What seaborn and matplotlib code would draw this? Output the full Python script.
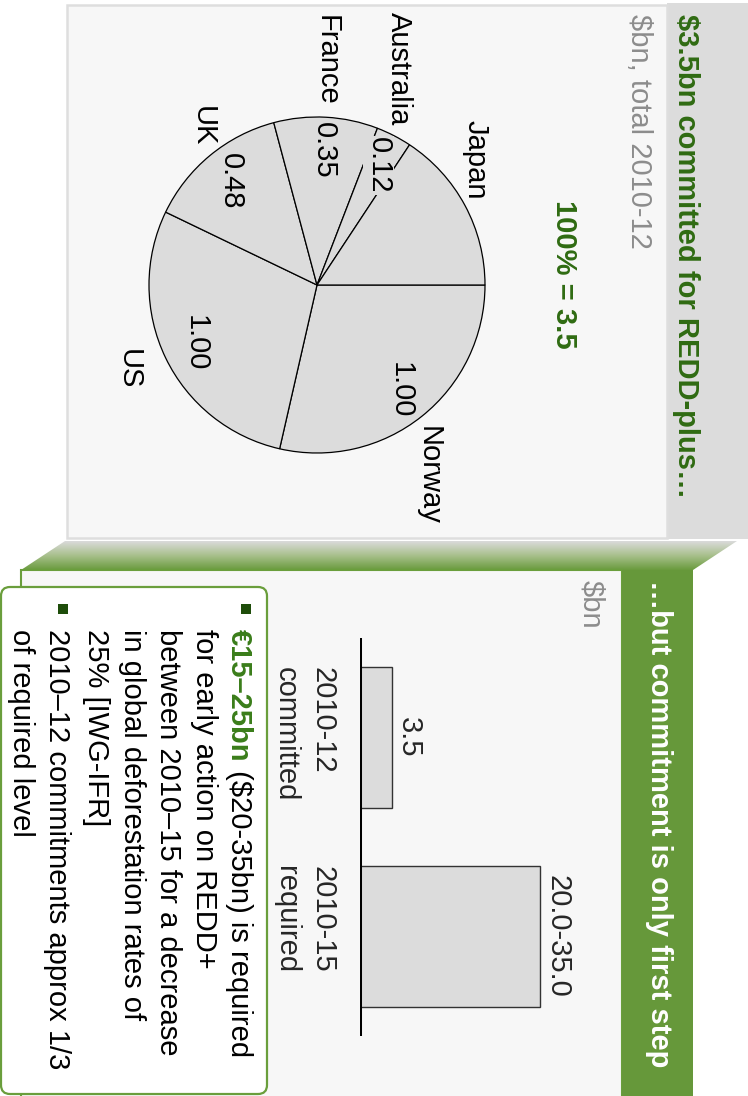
import numpy as np
import pandas as pd
import matplotlib
matplotlib.use("Agg")
import matplotlib.pyplot as plt
import matplotlib.patches as mpatches
from matplotlib.colors import LinearSegmentedColormap
import seaborn as sns

# ---------------- data ----------------
pie_countries = ["Norway", "US", "UK", "France", "Australia", "Japan"]
pie_values = [1.00, 1.00, 0.48, 0.35, 0.12, 0.55]
pie_value_labels = ["1.00", "1.00", "0.48", "0.35", "0.12", ""]
pie_total_label = "100% = 3.5"

bar_categories = ["2010-12\ncommitted", "2010-15\nrequired"]
bar_values = [3.5, 20.0]
bar_value_labels = ["3.5", "20.0-35.0"]

title_top = "$3.5bn committed for REDD-plus…"
subtitle_top = "$bn, total 2010-12"
title_bottom = "…but commitment is only first step"
subtitle_bottom = "$bn"
bullet_highlight = "€15–25bn"
bullet_lines = [
    " ($20-35bn) is required",
    "for early action on REDD+",
    "between 2010–15 for a decrease",
    "in global deforestation rates of",
    "25% [IWG-IFR]",
    "2010–12 commitments approx 1/3",
    "of required level",
]

# ---------------- style ----------------
sns.set_style("white")
plt.rcParams['font.family'] = ['Liberation Sans', 'DejaVu Sans']
FS = 21
DARK_GREEN = '#2f6b12'
HL_GREEN = '#3a7d1a'
HEADER_GREEN = '#66983a'
BORDER_GREEN = '#6a9e3c'
GREY_TXT = '#8c8c8c'
SLICE = '#dcdcdc'

W, H = 748, 1096
fig = plt.figure(figsize=(W / 100, H / 100), dpi=100)
fig.patch.set_facecolor('white')

# background / decoration axes in pixel units (y down)
bg = fig.add_axes([0, 0, 1, 1], zorder=0)
bg.axis('off')

# top panel
bg.add_patch(mpatches.Rectangle((667, 3), 81, 536, fc='#dcdcdc', ec='none'))
bg.add_patch(mpatches.Rectangle((67, 5), 600, 533, fc='#f7f7f7', ec='#dedede', lw=1.8))

# bevel between panels
poly = mpatches.Polygon([(65, 541), (737, 541), (693, 570), (21, 570)], closed=True,
                        fc='none', ec='none')
bg.add_patch(poly)
cmap = LinearSegmentedColormap.from_list('bev', ['#dadada', '#a8c08c', '#6a9b3e'])
grad = np.linspace(0, 1, 64).reshape(-1, 1)
im = bg.imshow(grad, cmap=cmap, extent=(21, 737, 570, 541), aspect='auto',
               origin='upper', zorder=1)
im.set_clip_path(poly)

# bottom panel
bg.add_patch(mpatches.Rectangle((21, 570), 601, 530, fc='#f7f7f7', ec=BORDER_GREEN, lw=1.5))
bg.add_patch(mpatches.Rectangle((622, 570), 71, 530, fc=HEADER_GREEN, ec='none'))

# callout box
bg.add_patch(mpatches.FancyBboxPatch((1, 587), 266, 507,
                                     boxstyle='round,pad=0,rounding_size=9',
                                     fc='white', ec=BORDER_GREEN, lw=1.6, zorder=2))
bg.set_xlim(0, W)
bg.set_ylim(H, 0)

rot = dict(rotation=-90, rotation_mode='anchor')

# texts top panel
bg.text(678, 14, title_top, ha='left', va='baseline', fontsize=FS,
        fontweight='bold', color=DARK_GREEN, **rot)
bg.text(631, 14, subtitle_top, ha='left', va='baseline', fontsize=FS,
        color=GREY_TXT, **rot)
bg.text(556, 200, pie_total_label, ha='left', va='baseline', fontsize=FS,
        fontweight='bold', color=DARK_GREEN, **rot)

# texts bottom panel
bg.text(651, 580, title_bottom, ha='left', va='baseline', fontsize=FS,
        fontweight='bold', color='white', **rot)
bg.text(583, 580, subtitle_bottom, ha='left', va='baseline', fontsize=FS,
        color=GREY_TXT, **rot)

# bullets
bg.add_patch(mpatches.Rectangle((241, 604), 10, 10, fc='#1e4d0a', ec='none', zorder=3))
bg.add_patch(mpatches.Rectangle((58, 604), 10, 10, fc='#1e4d0a', ec='none', zorder=3))
baselines = [231, 196, 160, 124, 88, 49, 13]
t1 = bg.text(baselines[0], 629, bullet_highlight, ha='left', va='baseline', fontsize=FS,
             fontweight='bold', color=HL_GREEN, zorder=4, **rot)
fig.canvas.draw()
len1 = t1.get_window_extent().height
for k, line in enumerate(bullet_lines):
    ystart = 629 + (len1 if k == 0 else 0)
    bg.text(baselines[k], ystart, line, ha='left', va='baseline', fontsize=FS,
            color='black', zorder=4, **rot)

# ---------------- pie ----------------
cx, cy, R = 317, 285, 168
ax_pie = fig.add_axes([(cx - R) / W, 1 - (cy + R) / H, 2 * R / W, 2 * R / H], zorder=2)
wedges, texts, autotexts = ax_pie.pie(
    pie_values, labels=pie_countries, colors=[SLICE] * len(pie_values),
    startangle=0, counterclock=False, labeldistance=1.07, pctdistance=0.8,
    autopct='%1.2f',
    wedgeprops=dict(edgecolor='black', linewidth=0.9),
    textprops=dict(fontsize=FS, color='black'))
for w, t in zip(wedges, texts):
    phi = np.deg2rad((w.theta1 + w.theta2) / 2)
    xf, yf = np.cos(phi), np.sin(phi)
    xu, yu = -yf, xf  # reading (unrotated) frame
    if abs(xu) < 0.45:
        ha, va = 'center', ('bottom' if yu > 0 else 'top')
        d = 1.07 + 14 / R
        t.set_position((d * xf, d * yf))
    else:
        ha, va = ('left' if xu > 0 else 'right'), 'center'
    t.set(ha=ha, va=va, **rot)
for t, lab in zip(autotexts, pie_value_labels):
    t.set_text(lab)
    t.set(ha='center', va='center', **rot)
    if lab:
        t.set_bbox(dict(boxstyle='square,pad=0.05', fc=SLICE, ec='none'))
ax_pie.set_xlim(-1, 1)
ax_pie.set_ylim(-1, 1)

# ---------------- bars ----------------
x0, y_top, y_bot = 360, 638, 1036
px_per_unit = 9.0
xmax = 25
ax_bar = fig.add_axes([x0 / W, 1 - y_bot / H, xmax * px_per_unit / W, (y_bot - y_top) / H],
                      zorder=2)
df = pd.DataFrame({'cat': bar_categories, 'val': bar_values})
sns.barplot(data=df, x='val', y='cat', orient='h', color=SLICE, saturation=1,
            edgecolor='#333333', linewidth=1.0, width=0.71, ax=ax_bar)
ax_bar.set_xlim(0, xmax)
ax_bar.set_ylim(1.5, -0.5)
ax_bar.axis('off')
ax_bar.axvline(0, color='black', lw=2.9, solid_capstyle='round', zorder=5)
for i, (v, lab) in enumerate(zip(bar_values, bar_value_labels)):
    ax_bar.annotate(lab, xy=(v, i), xytext=(6.5, 0), textcoords='offset points',
                    ha='center', va='baseline', fontsize=FS, annotation_clip=False, **rot)
for i, cat in enumerate(bar_categories):
    for k, line in enumerate(cat.split('\n')):
        ax_bar.annotate(line, xy=(0, i - 0.355),
                        xytext=(-(45 + 37 * k) * 0.72, 0), textcoords='offset points',
                        ha='left', va='baseline', fontsize=FS, annotation_clip=False, **rot)

fig.savefig('out.png', dpi=100, facecolor='white')
